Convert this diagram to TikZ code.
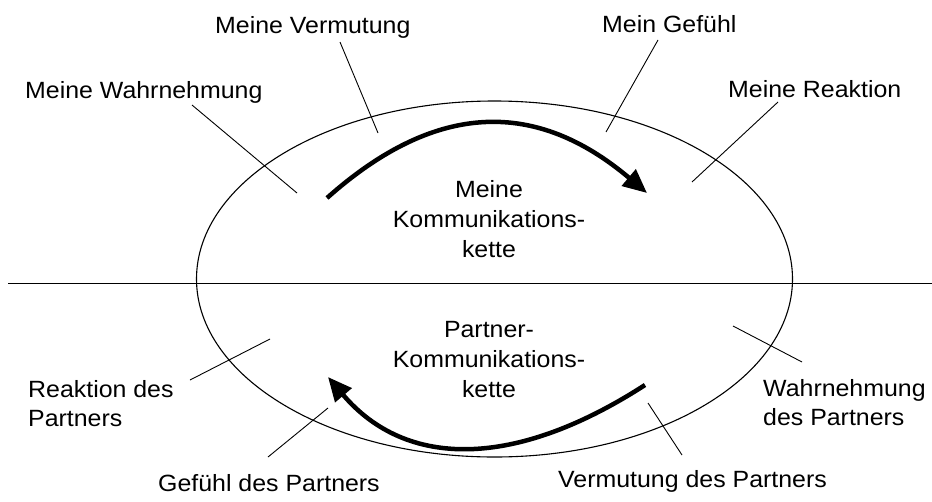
\documentclass[tikz,border=0pt]{standalone}
\usepackage{fontspec}
\setmainfont{Liberation Sans}[FakeStretch=1.06]
\usetikzlibrary{arrows.meta}
\begin{document}
\begin{tikzpicture}[x=1pt,y=-1pt,
  lbl/.style={inner sep=0pt, anchor=base west, align=left, font=\fontsize{23.5}{29}\selectfont},
  ctr/.style={inner sep=0pt, anchor=base, align=center, font=\fontsize{23.5}{30}\selectfont},
  leader/.style={line width=0.9pt},
  flow/.style={line width=4.5pt, -{Triangle[length=24pt,width=21pt]}}]
\useasboundingbox (0,0) rectangle (932,501);

% ellipse and dividing line
\draw[line width=1.1pt] (494.5,279) ellipse [x radius=298pt, y radius=178pt];
\coordinate (hl) at (8,283);
\coordinate (hr) at (932,283);
\draw[line width=1pt] (hl) -- (hr);

% centre texts (anchor = baseline of last line)
\node[ctr] (mine) at (489,257) {Meine\\Kommunikations-\\kette};
\node[ctr] (partner) at (489,397) {Partner-\\Kommunikations-\\kette};

% labels
\node[lbl] (vermutung) at (215,33) {Meine Vermutung};
\node[lbl] (gefuehl) at (602,32) {Mein Gefühl};
\node[lbl] (wahrnehmung) at (25,98) {Meine Wahrnehmung};
\node[lbl] (reaktion) at (728,97) {Meine Reaktion};
\node[lbl] (preaktion) at (28,426) {Reaktion des\\Partners};
\node[lbl] (pwahrnehmung) at (763,425) {Wahrnehmung\\des Partners};
\node[lbl] (pgefuehl) at (158,491) {Gefühl des Partners};
\node[lbl] (pvermutung) at (558,487) {Vermutung des Partners};

% leader line end points
\coordinate (v1) at (340,42);  \coordinate (v2) at (378,133);
\coordinate (g1) at (658,40);  \coordinate (g2) at (606,132);
\coordinate (w1) at (192,105); \coordinate (w2) at (297,193);
\coordinate (r1) at (778,102); \coordinate (r2) at (692,182);
\coordinate (pr1) at (190,380); \coordinate (pr2) at (270,339);
\coordinate (pg1) at (268,457); \coordinate (pg2) at (328,408);
\coordinate (pw1) at (802,362); \coordinate (pw2) at (733,326);
\coordinate (pv1) at (682,455); \coordinate (pv2) at (648,403);

\draw[leader] (v1) -- (v2);
\draw[leader] (g1) -- (g2);
\draw[leader] (w1) -- (w2);
\draw[leader] (r1) -- (r2);
\draw[leader] (pr1) -- (pr2);
\draw[leader] (pg1) -- (pg2);
\draw[leader] (pw1) -- (pw2);
\draw[leader] (pv1) -- (pv2);

% flow arrows
\coordinate (a1s) at (327,198); \coordinate (a1e) at (647,193);
\coordinate (a2s) at (645,385); \coordinate (a2e) at (328,377);
\draw[flow] (a1s) .. controls (437,100) and (537,100) .. (a1e);
\draw[flow] (a2s) .. controls (515,469) and (406,469) .. (a2e);
\end{tikzpicture}
\end{document}
